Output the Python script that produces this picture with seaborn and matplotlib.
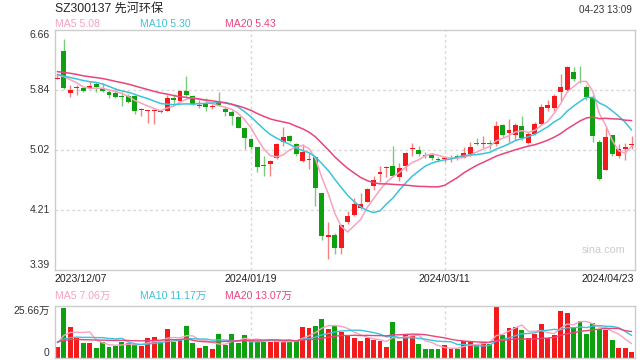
import numpy as np
import pandas as pd
import matplotlib
matplotlib.use("Agg")
import matplotlib.pyplot as plt
import seaborn as sns

# trading days shown (SZSE calendar, holidays removed)
HOLIDAYS = ["2024-01-01", "2024-02-09", "2024-02-12", "2024-02-13", "2024-02-14",
            "2024-02-15", "2024-02-16", "2024-04-04", "2024-04-05"]
TICK_DATES = ["2023/12/07", "2024/01/19", "2024/03/11", "2024/04/23"]
PRICE_TICKS = [6.66, 5.84, 5.02, 4.21, 3.39]

# daily OHLC (yuan)
opens = [5.99, 6.374, 5.80, 5.865, 5.87, 5.874, 5.929, 5.87, 5.815, 5.802,
         5.75, 5.765, 5.765, 5.57, 5.56, 5.555, 5.55, 5.556, 5.738, 5.692,
         5.829, 5.76, 5.627, 5.652, 5.615, 5.683, 5.584, 5.543, 5.475, 5.33,
         5.175, 5.066, 4.81, 4.838, 4.92, 5.138, 5.22, 5.102, 4.875, 4.89,
         4.93, 4.435, 3.835, 3.867, 3.685, 4.048, 4.139, 4.23, 4.321, 4.539,
         4.693, 4.775, 4.802, 4.662, 4.811, 5.045, 5.02, 4.95, 4.957, 4.896,
         4.90, 4.91, 4.93, 4.92, 4.966, 5.111, 5.105, 5.11, 5.107, 5.366,
         5.261, 5.23, 5.352, 5.116, 5.248, 5.375, 5.593, 5.602, 5.81, 5.838,
         6.083, 6.005, 5.883, 5.738, 5.138, 4.757, 5.23, 4.948, 5.045, 5.09]
closes = [6.00, 5.865, 5.842, 5.888, 5.833, 5.897, 5.879, 5.833, 5.774, 5.743,
          5.745, 5.683, 5.556, 5.58, 5.565, 5.56, 5.545, 5.738, 5.702, 5.829,
          5.774, 5.647, 5.63, 5.606, 5.62, 5.638, 5.547, 5.493, 5.33, 5.193,
          5.066, 4.798, 4.806, 4.875, 5.111, 5.202, 5.148, 4.975, 5.002, 4.898,
          4.503, 3.858, 3.867, 3.685, 4.003, 4.126, 4.289, 4.285, 4.494, 4.617,
          4.73, 4.793, 4.675, 4.775, 4.984, 5.048, 4.975, 4.948, 4.911, 4.893,
          4.905, 4.914, 4.928, 4.98, 5.061, 5.11, 5.11, 5.107, 5.356, 5.23,
          5.293, 5.366, 5.193, 5.243, 5.375, 5.615, 5.638, 5.76, 5.89, 6.16,
          5.992, 6.00, 5.752, 5.22, 4.63, 5.202, 4.975, 5.045, 5.06, 5.10]
highs = [6.06, 6.533, 5.91, 5.91, 5.888, 5.965, 5.956, 5.933, 5.842, 5.874,
         5.82, 5.783, 5.77, 5.592, 5.57, 5.565, 5.57, 5.774, 5.783, 5.842,
         6.033, 5.774, 5.706, 5.729, 5.656, 5.82, 5.615, 5.57, 5.484, 5.338,
         5.193, 5.07, 4.948, 4.889, 5.12, 5.338, 5.23, 5.116, 5.102, 4.98,
         4.93, 4.435, 4.048, 3.89, 4.021, 4.198, 4.366, 4.44, 4.512, 4.675,
         4.811, 4.811, 5.084, 4.852, 5.002, 5.116, 5.075, 5.002, 4.98, 4.934,
         4.948, 4.957, 4.966, 5.07, 5.138, 5.184, 5.22, 5.16, 5.425, 5.38,
         5.447, 5.397, 5.493, 5.266, 5.402, 5.656, 5.71, 5.783, 6.06, 6.168,
         6.156, 6.165, 5.91, 5.774, 5.161, 5.343, 5.23, 5.111, 5.116, 5.216]
lows = [5.99, 5.86, 5.743, 5.774, 5.82, 5.856, 5.82, 5.82, 5.738, 5.729,
        5.629, 5.66, 5.52, 5.493, 5.39, 5.385, 5.525, 5.55, 5.656, 5.69,
        5.765, 5.638, 5.60, 5.556, 5.58, 5.62, 5.483, 5.365, 5.32, 5.038,
        5.038, 4.73, 4.675, 4.675, 4.902, 5.084, 5.138, 4.948, 4.857, 4.766,
        4.267, 3.799, 3.54, 3.612, 3.612, 4.021, 4.13, 4.22, 4.312, 4.48,
        4.594, 4.662, 4.675, 4.607, 4.739, 4.948, 4.948, 4.911, 4.889, 4.857,
        4.857, 4.866, 4.889, 4.911, 4.948, 5.093, 5.057, 5.04, 5.084, 5.207,
        5.138, 5.16, 5.16, 5.102, 5.23, 5.366, 5.556, 5.556, 5.692, 5.82,
        5.965, 5.933, 5.706, 5.13, 4.612, 4.748, 4.948, 4.92, 4.884, 5.039]
# volume (10k shares)
volumes = [5.5, 24.8, 15.3, 10.0, 7.2, 7.2, 5.0, 8.0, 5.4, 6.0,
           7.8, 7.2, 6.4, 6.0, 10.0, 10.5, 7.8, 14.5, 7.8, 9.2,
           15.8, 7.2, 4.8, 6.0, 4.6, 11.8, 6.6, 11.8, 7.2, 11.3,
           8.4, 8.0, 8.0, 8.0, 8.4, 8.0, 8.4, 8.4, 15.3, 14.8,
           15.8, 19.2, 14.5, 15.8, 12.8, 10.8, 9.8, 8.2, 9.8, 8.9,
           8.2, 5.6, 18.0, 8.6, 11.8, 11.1, 6.8, 4.3, 4.3, 4.3,
           6.3, 4.6, 4.6, 8.6, 8.2, 6.8, 7.7, 6.8, 25.66, 11.5,
           14.9, 15.4, 14.0, 9.9, 11.8, 17.0, 9.9, 11.5, 23.0, 22.3,
           14.9, 18.3, 11.6, 17.1, 14.5, 13.6, 9.0, 5.1, 4.8, 2.8]
# 19 sessions before the window, needed for the moving averages
prior_closes = [6.05, 6.10, 6.18, 6.22, 6.15, 6.12, 6.08, 6.14, 6.16, 6.08,
                6.10, 6.04, 6.08, 6.05, 6.055, 5.98, 6.05, 6.10, 6.105]
prior_volumes = [9.0, 8.0, 7.5, 10.0, 8.5, 7.0, 9.0, 8.0, 6.5, 7.5,
                 8.0, 9.0, 7.0, 8.5, 7.0, 6.5, 8.0, 9.5, 8.0]

RED = "#F21A1A"
GREEN = "#0EA00E"
MA_COLORS = {5: "#F7A3C0", 10: "#3DC2DD", 20: "#E9447C"}
GRID = "#D8D8D8"
BORDER = "#CCCCCC"

dates = pd.bdate_range("2023-12-07", "2024-04-23")
dates = dates[~dates.isin(pd.to_datetime(HOLIDAYS))]
labels = dates.strftime("%Y/%m/%d").tolist()
n = len(closes)
x = np.arange(n)
o, c, h, l = map(np.array, (opens, closes, highs, lows))
vol = np.array(volumes)

px_close = pd.Series(prior_closes + closes)
px_vol = pd.Series(prior_volumes + volumes)
ma = {k: px_close.rolling(k).mean().values[len(prior_closes):] for k in (5, 10, 20)}
vma = {k: px_vol.rolling(k).mean().values[len(prior_volumes):] for k in (5, 10, 20)}

sns.set_theme(style="white")
plt.rcParams["font.family"] = ["Liberation Sans", "Noto Sans CJK SC"]

W, H = 640, 360
fig = plt.figure(figsize=(6.4, 3.6), dpi=100)


def rect(left, top, right, bottom):
    return [left / W, 1 - bottom / H, (right - left) / W, (bottom - top) / H]


ax = fig.add_axes(rect(54.5, 30, 634.5, 270))
axv = fig.add_axes(rect(54.5, 306, 634.5, 358))

colors = np.where(c >= o, RED, GREEN)
tick_idx = [labels.index(d) for d in TICK_DATES]

# price panel
for y in PRICE_TICKS[1:-1]:
    ax.axhline(y, color=GRID, lw=1, ls=(0, (2, 2)), zorder=0)
for a in (ax, axv):
    for i in tick_idx[1:-1]:
        a.axvline(i, color=GRID, lw=1, ls=(0, (2, 2)), zorder=0)

ax.vlines(x, l, h, colors=colors, lw=1, alpha=0.55, zorder=2)
body_bottom = np.minimum(o, c)
body_h = np.maximum(np.abs(c - o), 0.012)
ax.bar(x, body_h, bottom=body_bottom, width=0.76, color=colors, linewidth=0, zorder=3)
for k in (5, 10, 20):
    sns.lineplot(x=x, y=ma[k], ax=ax, color=MA_COLORS[k], lw=1.1, zorder=4)
ax.set_xlim(-0.45, 89.45)
ax.set_ylim(PRICE_TICKS[-1], PRICE_TICKS[0])

# volume panel
axv.bar(x, vol, width=0.76, color=colors, linewidth=0, zorder=2)
for k in (5, 10, 20):
    sns.lineplot(x=x, y=vma[k], ax=axv, color=MA_COLORS[k], lw=1.0, zorder=3)
axv.set_xlim(-0.45, 89.45)
axv.set_ylim(0, max(volumes))

for a in (ax, axv):
    a.set_xticks([])
    a.set_yticks([])
    a.set_xlabel("")
    a.set_ylabel("")
    for s in a.spines.values():
        s.set_color(BORDER)
        s.set_linewidth(1)

# axis labels
ytr = ax.get_yaxis_transform()
for y in PRICE_TICKS:
    va = "top" if y == PRICE_TICKS[0] else ("bottom" if y == PRICE_TICKS[-1] else "center")
    ax.text(-0.008, y, f"{y:.2f}", transform=ytr, ha="right", va=va, fontsize=7.5, color="#333333")
vtr = axv.get_yaxis_transform()
axv.text(-0.008, max(volumes), f"{max(volumes):.2f}万", transform=vtr, ha="right", va="top",
         fontsize=7.5, color="#333333")
axv.text(-0.008, 0, "0", transform=vtr, ha="right", va="bottom", fontsize=7.5, color="#333333")

xtr = ax.get_xaxis_transform()
for j, (i, lab) in enumerate(zip(tick_idx, TICK_DATES)):
    ha = "left" if j == 0 else ("right" if j == len(tick_idx) - 1 else "center")
    xx = -0.45 if j == 0 else (89.45 if j == len(tick_idx) - 1 else i)
    ax.text(xx, -0.015, lab, transform=xtr, ha=ha, va="top", fontsize=7.6, color="#222222")

# header
fig.text(55 / W, 1 - 9 / H, "SZ300137 先河环保", fontsize=8.7, va="center", color="#222222")
fig.text(632 / W, 1 - 10 / H, "04-23 13:09", fontsize=7.1, ha="right", va="center", color="#333333")
for k, xp in zip((5, 10, 20), (55, 140, 225)):
    fig.text(xp / W, 1 - 24 / H, f"MA{k} {ma[k][-1]:.2f}", fontsize=7.6, va="center",
             color=MA_COLORS[k])
    fig.text(xp / W, 1 - 296 / H, f"MA{k} {vma[k][-1]:.2f}万", fontsize=7.6, va="center",
             color=MA_COLORS[k])

ax.text(0.985, 0.085, "sina.com", transform=ax.transAxes, ha="right", va="center",
        fontsize=7.8, color="#CCCCCC")

fig.savefig("out.png", dpi=100)
